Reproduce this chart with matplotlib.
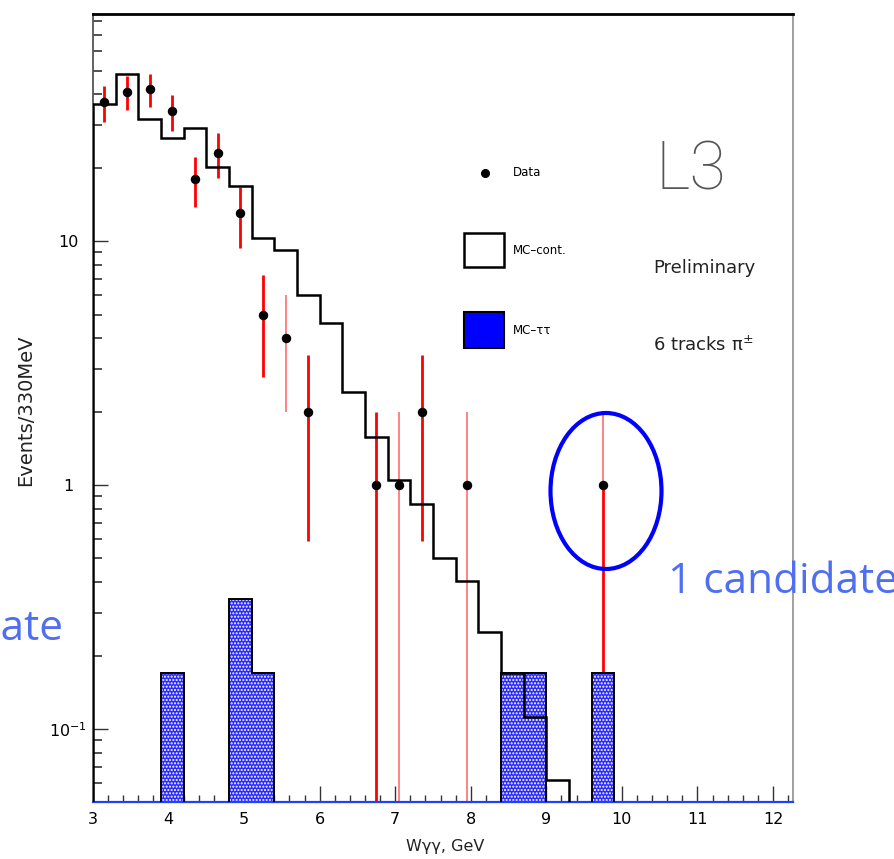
import numpy as np
import matplotlib
matplotlib.use('Agg')
import matplotlib.pyplot as plt
from matplotlib.patches import Rectangle, Ellipse
from matplotlib.lines import Line2D
from matplotlib.ticker import FixedLocator, MultipleLocator, LogLocator, NullFormatter, FixedFormatter

# ---------------- data ----------------
bin_width = 0.3
mc_cont_start = 3.0
mc_cont = [36.4, 48.3, 31.6, 26.5, 29.1, 20.2, 16.9, 10.3, 9.2, 6.0, 4.6,
           2.41, 1.58, 1.05, 0.835, 0.50, 0.405, 0.25, 0.17, 0.112, 0.062]

tau_left = [3.9, 4.8, 5.1, 8.4, 8.7, 9.6]
tau_vals = [0.17, 0.34, 0.17, 0.17, 0.17, 0.17]

data_x = [3.15, 3.45, 3.75, 4.05, 4.35, 4.65, 4.95, 5.25, 5.55, 5.85,
          6.75, 7.05, 7.35, 7.95, 9.75]
data_y = [37, 41, 42, 34, 18, 23, 13, 5, 4, 2, 1, 1, 2, 1, 1]
data_err = [6.1, 6.4, 6.5, 5.8, 4.2, 4.8, 3.6, 2.24, 2.0, 1.41, 1.0, 1.0, 1.41, 1.0, 1.0]

xtick_vals = [3, 4, 5, 6, 7, 8, 9, 10, 11, 12]
ytick_vals = [0.1, 1, 10]
ytick_labels = [r'$10^{-1}$', '1', '10']

# style flags for the lighter (thin) error bars
light_up = [False, False, False, False, False, False, False, False, True, False,
            False, True, False, True, True]
light_dn = [False, False, False, False, False, False, False, False, True, False,
            False, True, False, True, False]

W, H = 895, 859
def fx(p): return p / W
def fy(p): return 1 - p / H

plt.rcParams['font.family'] = ['DejaVu Sans']
fig = plt.figure(figsize=(W / 100, H / 100), dpi=100)
ax = fig.add_axes([fx(93), fy(802), 700 / W, 788 / H])
ax.set_yscale('log', nonpositive='clip')
ax.set_xlim(3.0, 12.264)
ax.set_ylim(0.0502, 85.3)

# error bars (behind the tautau fill)
tiny = 1e-3
for i, (x, y, e) in enumerate(zip(data_x, data_y, data_err)):
    lo = max(y - e, tiny)
    hi = y + e
    cu = '#ff7a7a' if light_up[i] else '#ff0000'
    cd = '#ff7a7a' if light_dn[i] else '#ff0000'
    ax.vlines(x, y, hi, colors=cu, lw=1.3 if light_up[i] else 2.0, zorder=1)
    ax.vlines(x, lo, y, colors=cd, lw=1.3 if light_dn[i] else 2.0, zorder=1)

# MC tautau filled bars with white dotted hatch
ax.bar(tau_left, tau_vals, width=bin_width, align='edge', bottom=tiny,
       color='#2a2aff', edgecolor='white', hatch='.....', linewidth=0, zorder=2)
# outline of the tautau histogram
edges_full = np.round(np.arange(3.0, 9.9 + 1e-6, bin_width), 2)
vals_full = np.full(len(edges_full) - 1, tiny)
for l, v in zip(tau_left, tau_vals):
    idx = int(round((l - 3.0) / bin_width))
    vals_full[idx] = v
ax.stairs(vals_full, edges_full, baseline=tiny, color='black', lw=1.4, zorder=3)

# MC continuum histogram
mc_edges = mc_cont_start + bin_width * np.arange(len(mc_cont) + 1)
ax.stairs(mc_cont, mc_edges, baseline=tiny, color='black', lw=1.8, zorder=4)

# data points
ax.plot(data_x, data_y, 'o', color='black', ms=5.8, zorder=5)

# spines
ax.spines['left'].set_color('#555555')
ax.spines['left'].set_linewidth(1.3)
ax.spines['right'].set_color('#999999')
ax.spines['right'].set_linewidth(1.3)
ax.spines['top'].set_color('black')
ax.spines['top'].set_linewidth(2.0)
ax.spines['bottom'].set_color('#2040ff')
ax.spines['bottom'].set_linewidth(1.6)

# ticks
ax.xaxis.set_major_locator(FixedLocator(xtick_vals))
ax.xaxis.set_minor_locator(MultipleLocator(0.2))
ax.yaxis.set_major_locator(FixedLocator(ytick_vals))
ax.yaxis.set_major_formatter(FixedFormatter(ytick_labels))
ax.yaxis.set_minor_locator(LogLocator(base=10, subs=np.arange(2, 10)))
ax.yaxis.set_minor_formatter(NullFormatter())
ax.tick_params(axis='x', which='both', direction='in', top=False, bottom=True,
               colors='#333333', labelcolor='black', labelsize=11.5, pad=7)
ax.tick_params(axis='x', which='major', length=11.5, width=1.0)
ax.tick_params(axis='x', which='minor', length=5, width=1.0)
ax.tick_params(axis='y', which='both', direction='in', left=True, right=False,
               colors='#333333', labelcolor='black', labelsize=11.5, pad=18)
ax.tick_params(axis='y', which='major', length=11, width=1.0)
ax.tick_params(axis='y', which='minor', length=6.5, width=1.2)
for lab in ax.get_yticklabels():
    lab.set_ha('center')

# axis titles
fig.text(fx(26), fy(410), 'Events/330MeV', rotation=90, ha='center', va='center',
         fontsize=14, color='#222222')
fig.text(fx(445), fy(847), 'Wγγ, GeV', ha='center', va='center', fontsize=11.5,
         color='#222222')

# legend (hand placed, ROOT style)
fig.add_artist(Line2D([fx(485)], [fy(173)], marker='o', ms=5.5, color='black',
                      transform=fig.transFigure))
fig.text(fx(513), fy(173), 'Data', ha='left', va='center', fontsize=8.5)
fig.add_artist(Rectangle((fx(464), fy(267)), 40 / W, 34 / H, fill=False,
                         ec='black', lw=1.8, transform=fig.transFigure))
fig.text(fx(513), fy(250), 'MC–cont.', ha='left', va='center', fontsize=8.5)
fig.add_artist(Rectangle((fx(464), fy(348)), 40 / W, 36 / H, fc='#0000ff',
                         ec='black', lw=1.5, transform=fig.transFigure))
fig.text(fx(513), fy(330), 'MC–ττ', ha='left', va='center', fontsize=8.5)

# labels
fig.text(fx(656), fy(171), 'L3', ha='left', va='center', fontsize=48,
         family='Roboto', fontweight=100, color='#555555')
fig.text(fx(653), fy(268), 'Preliminary', ha='left', va='center', fontsize=13,
         color='#222222')
fig.text(fx(653), fy(345), r'6 tracks π$^{\pm}$', ha='left', va='center',
         fontsize=13, color='#222222')

# annotation: ellipse and "1 candidate"
fig.add_artist(Ellipse((fx(606), fy(491)), 111 / W, 156 / H, fill=False,
                       ec='#0000ff', lw=3, transform=fig.transFigure))
fig.text(fx(668), fy(593), '1 candidate', ha='left', va='baseline', fontsize=30.5,
         family='Open Sans', color='#4f6ff0')
fig.text(fx(63), fy(640), '1 candidate', ha='right', va='baseline', fontsize=30.5,
         family='Open Sans', color='#4f6ff0')

fig.savefig('out.png', dpi=100)
